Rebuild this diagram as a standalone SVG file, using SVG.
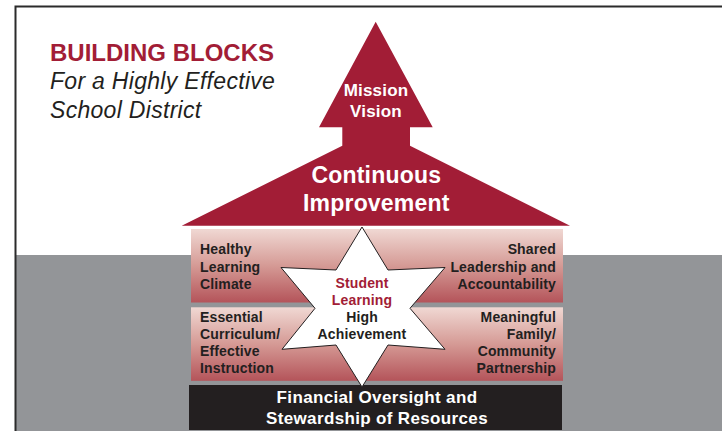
<svg xmlns="http://www.w3.org/2000/svg" width="722" height="431" viewBox="0 0 722 431">
<defs>
<linearGradient id="blk" x1="0" y1="0" x2="0" y2="1">
<stop offset="0" stop-color="#f0d8d3"/>
<stop offset="0.5" stop-color="#d59a95"/>
<stop offset="1" stop-color="#b4545a"/>
</linearGradient>
<style>
.t{font-family:"Liberation Sans",Arial,sans-serif;font-weight:bold;fill:#231f20;font-size:14px;letter-spacing:0.15px}
.r{text-anchor:end}
.c{text-anchor:middle}
.w{fill:#ffffff}
.red{fill:#a21d36}
</style>
</defs>
<rect width="722" height="431" fill="#ffffff"/>
<rect x="16" y="255" width="706" height="176" fill="#939598"/>
<path d="M15.5,431 V6.5 H722" fill="none" stroke="#2b2b2b" stroke-width="2"/>

<g id="title">
<text x="50" y="61" font-family="'Liberation Sans',Arial,sans-serif" font-weight="bold" font-size="24" fill="#a21d36">BUILDING BLOCKS</text>
<text x="50" y="89" font-family="'Liberation Sans',Arial,sans-serif" font-style="italic" font-size="23" letter-spacing="0.3" fill="#231f20">For a Highly Effective</text>
<text x="50" y="118" font-family="'Liberation Sans',Arial,sans-serif" font-style="italic" font-size="23" letter-spacing="0.3" fill="#231f20">School District</text>
</g>

<g id="arrow">
<path d="M375.7,21.7 L432.7,127.3 L410,127.3 L410,145.7 L570,225.7 L181.7,225.7 L342.3,145.7 L342.3,127.3 L319,127.3 Z" fill="#a21d36"/>
<text x="376" y="95.7" class="t c w" style="font-size:17px;letter-spacing:0.2px">Mission</text>
<text x="376" y="116.7" class="t c w" style="font-size:17px;letter-spacing:0.2px">Vision</text>
<text x="376.3" y="182.7" class="t c w" style="font-size:23px;letter-spacing:0.2px">Continuous</text>
<text x="376.3" y="211" class="t c w" style="font-size:23px;letter-spacing:0.2px">Improvement</text>
</g>

<g id="block-top">
<rect x="191" y="229" width="372" height="73.5" fill="url(#blk)"/>
</g>
<g id="block-bottom">
<rect x="191" y="307.3" width="372" height="73.5" fill="url(#blk)"/>
</g>

<g id="healthy-learning-climate">
<text x="200" y="254.3" class="t">Healthy</text>
<text x="200" y="271.7" class="t">Learning</text>
<text x="200" y="289" class="t">Climate</text>
</g>
<g id="shared-leadership">
<text x="556" y="254.3" class="t r">Shared</text>
<text x="556" y="271.7" class="t r">Leadership and</text>
<text x="556" y="289" class="t r">Accountability</text>
</g>
<g id="essential-curriculum">
<text x="200" y="321.7" class="t">Essential</text>
<text x="200" y="338.7" class="t">Curriculum/</text>
<text x="200" y="356" class="t">Effective</text>
<text x="200" y="373" class="t">Instruction</text>
</g>
<g id="family-community">
<text x="556" y="321.7" class="t r">Meaningful</text>
<text x="556" y="338.5" class="t r">Family/</text>
<text x="556" y="355.7" class="t r">Community</text>
<text x="556" y="372.7" class="t r">Partnership</text>
</g>

<g id="financial">
<rect x="189" y="385" width="373" height="45" fill="#231f20"/>
<text x="377" y="403.3" class="t c w" style="font-size:17px;letter-spacing:0.35px">Financial Oversight and</text>
<text x="377" y="424" class="t c w" style="font-size:17px;letter-spacing:0.35px">Stewardship of Resources</text>
</g>

<g id="student-learning-star">
<path d="M362,227 L388,270 L445,267.5 L410,308.3 L445,349.3 L388,345 L362,387 L336,345 L282,349.3 L315,308.3 L281,267.5 L336,270 Z" fill="#ffffff" stroke="#231f20" stroke-width="1" stroke-linejoin="miter"/>
<text x="362" y="287.7" class="t c red">Student</text>
<text x="362" y="305" class="t c red">Learning</text>
<text x="362" y="322.3" class="t c">High</text>
<text x="362" y="339.3" class="t c">Achievement</text>
</g>

<g id="connectors"/>
</svg>
